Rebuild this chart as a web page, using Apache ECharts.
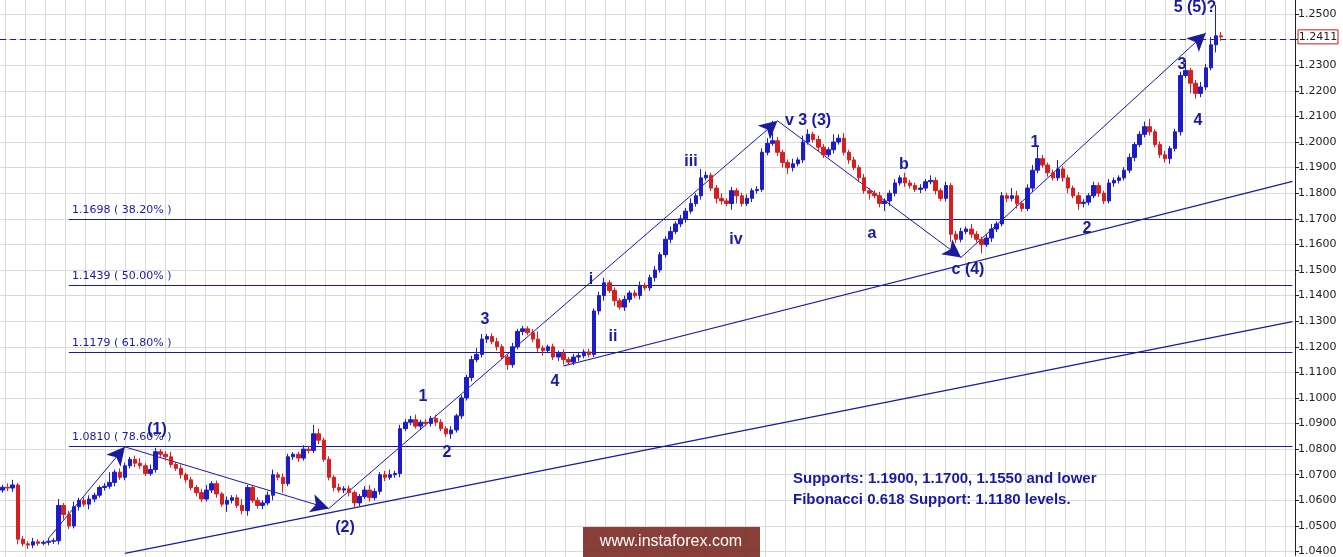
<!DOCTYPE html>
<html><head><meta charset="utf-8">
<script src="https://cdn.jsdelivr.net/npm/echarts@6/dist/echarts.min.js"></script>
<style>html,body{margin:0;padding:0;background:#fff}#c{width:1343px;height:557px}</style>
</head><body><div id="c"></div>
<script>
// closes in pips above 1.0000
const closes = [651,648,660,448,430,425,438,432,436,440, 442,580,545,500,575,600,585,605,620,650,
655,670,710,690,735,760,745,735,705,720, 790,780,770,740,725,700,680,650,630,605,
640,665,625,585,600,610,580,560,650,600, 580,590,620,700,690,665,770,780,765,800,
795,860,835,760,690,650,640,645,630,590, 615,640,610,635,700,690,700,705,880,905,
915,890,905,900,920,905,880,860,875,930, 1000,1080,1150,1170,1230,1240,1220,1200,1160,1130,
1200,1260,1270,1255,1230,1195,1185,1200,1160,1175, 1150,1140,1160,1165,1180,1170,1340,1400,1450,1420,
1380,1355,1385,1410,1400,1440,1430,1470,1500,1560, 1620,1650,1680,1700,1730,1760,1790,1860,1870,1820,
1780,1770,1760,1810,1790,1760,1780,1810,1815,1960, 1995,2005,1960,1920,1900,1915,1930,2000,2030,2010,
1980,1950,1970,2000,2015,1960,1930,1900,1860,1810, 1800,1790,1760,1770,1800,1840,1860,1840,1830,1815,
1820,1845,1850,1810,1780,1830,1640,1620,1650,1660, 1640,1620,1600,1625,1660,1680,1790,1780,1790,1760,
1740,1820,1890,1935,1910,1880,1860,1895,1860,1820, 1790,1760,1765,1790,1830,1800,1770,1840,1850,1860,
1890,1940,1990,2030,2060,2040,1990,1950,1935,1975, 2040,2260,2280,2230,2190,2215,2290,2380,2415,2411];
const firstOpen = 640;
const wickHi = [10,15,20,8,12,10,15,10,8,12, 10,25,10,15,20,10,12,15,10,8,
12,40,10,15,12,10,15,20,10,20, 15,10,12,20,10,15,8,12,10,15,
20,10,12,8,15,10,12,25,10,8, 12,10,15,20,10,15,12,8,10,15,
10,35,20,10,12,8,15,10,12,8, 10,15,20,12,10,15,20,10,15,12,
15,20,10,12,10,15,12,10,15,8, 12,10,15,25,20,10,12,15,10,12,
15,10,12,10,15,30,10,8,12,10, 15,10,12,15,10,12,10,15,20,10,
12,10,15,10,12,15,10,12,15,10, 12,20,10,15,12,20,10,35,15,10,
12,20,10,15,10,12,15,10,12,15, 20,78,15,10,12,20,10,25,20,10,
15,12,10,30,15,20,10,12,10,15, 10,12,15,10,12,15,10,20,12,10,
15,10,20,12,10,15,10,12,15,10, 20,12,10,15,20,10,15,12,30,20,
10,15,20,45,15,10,12,35,10,12, 10,15,12,10,15,12,10,15,12,10,
12,15,10,12,20,30,10,12,15,10, 12,15,40,10,12,20,15,30,120,15];
const wickLo = [10,12,15,20,10,15,12,10,8,12, 10,15,20,12,10,15,10,20,12,10,
12,10,15,10,12,10,15,12,10,10, 12,10,15,12,10,15,12,10,15,12,
10,12,15,10,30,12,10,15,20,10, 12,15,10,20,12,35,10,12,15,10,
12,10,15,10,12,15,10,12,15,20, 12,10,15,10,12,15,10,12,15,10,
12,10,15,10,12,15,10,12,20,10, 12,10,15,10,12,15,10,15,10,20,
12,10,15,10,12,15,20,10,12,15, 20,10,12,15,10,12,10,15,20,10,
20,10,15,12,10,15,10,12,15,10, 12,15,10,12,15,10,12,15,10,12,
20,15,10,25,30,12,10,15,12,10, 12,10,15,20,25,15,10,12,10,12,
15,12,10,15,10,12,15,10,15,12, 25,10,15,30,20,12,10,15,12,10,
15,12,10,15,10,12,30,15,12,10, 15,12,35,10,15,12,10,15,12,20,
12,10,15,12,10,15,10,12,15,20, 10,25,15,12,10,15,12,10,15,12,
10,12,15,10,12,15,10,12,15,20, 12,15,10,40,20,15,12,10,30,15];
const yTicks = [1.04,1.05,1.06,1.07,1.08,1.09,1.10,1.11,1.12,1.13,1.14,1.15,1.16,1.17,1.18,1.19,1.20,1.21,1.22,1.23,1.24,1.25];
const fibLevels = [1.1698, 1.1439, 1.1179, 1.0810];
const fibNames = ['38.20%','50.00%','61.80%','78.60%'];
const lastPrice = 1.2411;
const wavePath = [[9.3,1.0451],[24.0,1.0809],[64.2,1.0568],[151.5,1.2083],[187.7,1.1549],[235.8,1.2426]];
const trendLines = [[[24,1.0393],[253.4,1.1298]],[[110.3,1.1125],[253.4,1.1846]]];
const waveLabels = [['(1)',157,430],['(2)',345,528],['1',423,397],['2',447,453],['3',485,320],['4',555,382],
['i',591,280],['ii',613,337],['iii',691,162],['iv',736,240],['v 3 (3)',808,121],['a',872,234],['b',904,165],
['c (4)',968,270],['1',1035,143],['2',1087,229],['3',1182,65],['4',1198,121],['5 (5)?',1195,8]];

const N = 254;
const cats = [];
for (let i=0;i<N;i++) cats.push(String(i));
const ohlc = [];
for (let i=0;i<closes.length;i++){
  const o = i===0?firstOpen:closes[i-1], c = closes[i];
  const hi = Math.max(o,c)+wickHi[i], lo = Math.min(o,c)-wickLo[i];
  ohlc.push([1+o/1e4,1+c/1e4,1+lo/1e4,1+hi/1e4].map(v=>+v.toFixed(4)));
}
const blue='#1c1cc8', red='#d42020', navy='#1a1a9c';
const lineSt = {color:navy,width:1.2,type:'solid'};
const gridData = yTicks.map(v=>({yAxis:v,lineStyle:{color:'#d9d9d9',width:1,type:'solid'}}));
const markData = [];
fibLevels.forEach(v=>markData.push([{coord:[13.2,v],lineStyle:lineSt},{coord:[253.4,v]}]));
trendLines.forEach(t=>markData.push([{coord:t[0],lineStyle:lineSt},{coord:t[1]}]));
const arrowData = [];
for (let i=0;i<wavePath.length-1;i++) arrowData.push([{coord:wavePath[i]},{coord:wavePath[i+1]}]);

const graphics = [];
waveLabels.forEach(l=>graphics.push({type:'text',x:l[1],y:l[2],style:{text:l[0],fill:navy,font:'bold 16px "Liberation Sans", Arial',textAlign:'center',textVerticalAlign:'middle'},z:50}));
fibLevels.forEach((v,k)=>graphics.push({type:'text',x:72,y:0,style:{text:v.toFixed(4)+' ( '+fibNames[k]+' )',fill:navy,font:'11px "DejaVu Sans", sans-serif',textVerticalAlign:'bottom'},z:50}));
graphics.push({type:'text',x:793,y:479,style:{text:'Supports: 1.1900, 1.1700, 1.1550 and lower',fill:navy,font:'bold 15px "Liberation Sans", Arial',textVerticalAlign:'middle'},z:50});
graphics.push({type:'text',x:793,y:500,style:{text:'Fibonacci 0.618 Support: 1.1180 levels.',fill:navy,font:'bold 15px "Liberation Sans", Arial',textVerticalAlign:'middle'},z:50});
graphics.push({type:'rect',shape:{x:583,y:527,width:177,height:32},style:{fill:'rgba(120,35,30,0.88)'},z:50});
graphics.push({type:'text',x:671,y:542,style:{text:'www.instaforex.com',fill:'#fff',font:'16px "Liberation Sans", Arial',textAlign:'center',textVerticalAlign:'middle'},z:51});

const chart = echarts.init(document.getElementById('c'));
chart.setOption({
  animation:false, backgroundColor:'#fff',
  grid:[{left:0,right:48,top:0,bottom:0},{left:5,right:48,top:0,bottom:0}],
  xAxis:[
    {type:'category',data:cats,gridIndex:0,boundaryGap:true,axisLine:{show:false},axisTick:{show:false},axisLabel:{show:false},splitLine:{show:false}},
    {type:'value',gridIndex:1,min:0,max:1290,interval:20,axisLine:{show:false},axisTick:{show:false},axisLabel:{show:false},splitLine:{show:true,lineStyle:{color:'#d9d9d9',width:1}}}
  ],
  yAxis:[
    {type:'value',gridIndex:0,position:'right',min:1.0385,max:1.2555,
     axisLine:{show:true,lineStyle:{color:'#222'}},axisTick:{show:true,length:4,customValues:yTicks,lineStyle:{color:'#222'}},
     axisLabel:{color:'#222',fontSize:11,fontFamily:'"DejaVu Sans", sans-serif',margin:3,customValues:yTicks,formatter:v=>v.toFixed(4)},
     splitLine:{show:false}},
    {type:'value',gridIndex:1,min:0,max:1,show:false,splitLine:{show:false}}
  ],
  series:[
    {type:'line',xAxisIndex:0,yAxisIndex:0,data:[],z:1,
     markLine:{silent:true,symbol:'none',label:{show:false},data:gridData}},
    {type:'candlestick',xAxisIndex:0,yAxisIndex:0,data:ohlc,barWidth:4,
     itemStyle:{color:blue,color0:red,borderColor:blue,borderColor0:red,borderWidth:1},
     markLine:{silent:true,symbol:'none',label:{show:false},lineStyle:lineSt,data:markData.concat([{yAxis:lastPrice,lineStyle:{color:navy,type:[6,4],width:1}}])},
     z:5},
    {type:'line',xAxisIndex:0,yAxisIndex:0,data:[],
     markLine:{silent:true,symbol:['none','arrow'],symbolSize:[14,18],label:{show:false},lineStyle:{color:navy,width:1,type:'solid'},data:arrowData}}
  ],
  graphic:graphics
});
fibLevels.forEach((v,k)=>{
  graphics[waveLabels.length+k].y = chart.convertToPixel({yAxisIndex:0},v)-4;
});
const ly = chart.convertToPixel({yAxisIndex:0},lastPrice);
graphics.push({type:'rect',shape:{x:1298,y:ly-7,width:40,height:14},style:{fill:'#fff',stroke:'#c02020',lineWidth:1},z:60});
graphics.push({type:'text',x:1318,y:ly,style:{text:lastPrice.toFixed(4),fill:'#222',font:'11px "DejaVu Sans", sans-serif',textAlign:'center',textVerticalAlign:'middle'},z:61});
chart.setOption({graphic:graphics});
</script></body></html>
